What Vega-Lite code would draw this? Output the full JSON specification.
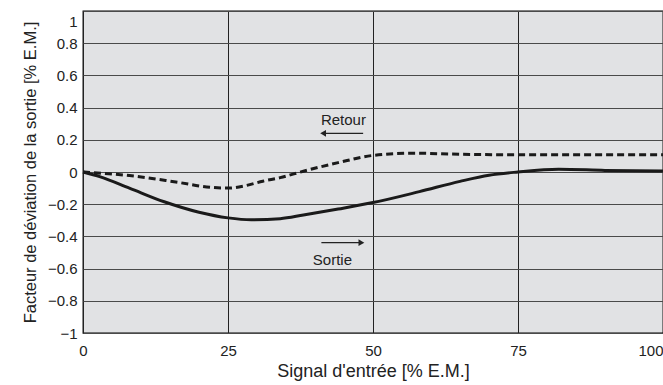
{
  "$schema": "https://vega.github.io/schema/vega-lite/v6.json",
  "width": 580,
  "height": 322,
  "autosize": "none",
  "padding": {"left": 83, "top": 11, "right": 0, "bottom": 52},
  "background": "white",
  "config": {
    "font": "Liberation Sans",
    "view": {"fill": "#e1e2e4", "stroke": "#000000", "strokeWidth": 1.3}
  },
  "datasets": {
    "curves": [
      {"signal": 0, "ecart": 0, "serie": "Sortie"},
      {"signal": 3, "ecart": -0.03, "serie": "Sortie"},
      {"signal": 8, "ecart": -0.1, "serie": "Sortie"},
      {"signal": 14, "ecart": -0.185, "serie": "Sortie"},
      {"signal": 20, "ecart": -0.25, "serie": "Sortie"},
      {"signal": 25, "ecart": -0.285, "serie": "Sortie"},
      {"signal": 29, "ecart": -0.297, "serie": "Sortie"},
      {"signal": 34, "ecart": -0.29, "serie": "Sortie"},
      {"signal": 38, "ecart": -0.267, "serie": "Sortie"},
      {"signal": 44, "ecart": -0.23, "serie": "Sortie"},
      {"signal": 50, "ecart": -0.19, "serie": "Sortie"},
      {"signal": 58, "ecart": -0.122, "serie": "Sortie"},
      {"signal": 65, "ecart": -0.058, "serie": "Sortie"},
      {"signal": 70, "ecart": -0.02, "serie": "Sortie"},
      {"signal": 75, "ecart": 0, "serie": "Sortie"},
      {"signal": 82, "ecart": 0.017, "serie": "Sortie"},
      {"signal": 90, "ecart": 0.01, "serie": "Sortie"},
      {"signal": 100, "ecart": 0.006, "serie": "Sortie"},
      {"signal": 0, "ecart": 0, "serie": "Retour"},
      {"signal": 8, "ecart": -0.022, "serie": "Retour"},
      {"signal": 16, "ecart": -0.062, "serie": "Retour"},
      {"signal": 22, "ecart": -0.095, "serie": "Retour"},
      {"signal": 25, "ecart": -0.1, "serie": "Retour"},
      {"signal": 28, "ecart": -0.085, "serie": "Retour"},
      {"signal": 31, "ecart": -0.057, "serie": "Retour"},
      {"signal": 34, "ecart": -0.035, "serie": "Retour"},
      {"signal": 38, "ecart": 0.005, "serie": "Retour"},
      {"signal": 44, "ecart": 0.058, "serie": "Retour"},
      {"signal": 50, "ecart": 0.103, "serie": "Retour"},
      {"signal": 57, "ecart": 0.117, "serie": "Retour"},
      {"signal": 65, "ecart": 0.11, "serie": "Retour"},
      {"signal": 75, "ecart": 0.107, "serie": "Retour"},
      {"signal": 100, "ecart": 0.107, "serie": "Retour"}
    ],
    "labels": [
      {"signal": 44.9, "ecart": 0.323, "texte": "Retour"},
      {"signal": 43.0, "ecart": -0.547, "texte": "Sortie"}
    ],
    "arrows": [
      {"from": 48.3, "to": 41.4, "ecart": 0.24, "dir": "left"},
      {"from": 41.1, "to": 48.0, "ecart": -0.439, "dir": "right"}
    ]
  },
  "layer": [
    {
      "data": {"name": "curves"},
      "transform": [{"filter": "datum.serie == 'Sortie'"}],
      "mark": {"type": "line", "color": "#1a1a1a", "strokeWidth": 3, "interpolate": "monotone"},
      "encoding": {
        "x": {
          "field": "signal", "type": "quantitative",
          "scale": {"domain": [0, 100], "nice": false, "zero": false},
          "axis": {
            "values": [0, 25, 50, 75, 100], "tickCount": 30,
            "grid": true, "gridColor": "#222222", "gridWidth": 1, "gridOpacity": 1,
            "domain": false, "ticks": false, "labelOverlap": false,
            "labelPadding": 10, "labelFontSize": 15, "labelColor": "#222222",
            "labelAlign": {"condition": {"test": "datum.value == 100", "value": "right"}, "value": "center"},
            "title": "Signal d'entrée [% E.M.]",
            "titleFontSize": 18, "titleFontWeight": "normal", "titleColor": "#222222", "titlePadding": 4
          }
        },
        "y": {
          "field": "ecart", "type": "quantitative",
          "scale": {"domain": [-1, 1], "nice": false},
          "axis": {
            "values": [-1, -0.8, -0.6, -0.4, -0.2, 0, 0.2, 0.4, 0.6, 0.8, 1], "tickCount": 30,
            "labelExpr": "replace(format(datum.value, '.1~f'), '-', '–')",
            "grid": true, "gridColor": "#4a4a4a", "gridWidth": 1, "gridOpacity": 1,
            "domain": false, "ticks": false, "labelOverlap": false,
            "labelPadding": 6, "labelFontSize": 15, "labelColor": "#222222",
            "labelOffset": {"condition": {"test": "datum.value == 1", "value": 10}, "value": 0},
            "title": "Facteur de déviation de la sortie [% E.M.]",
            "titleFontSize": 16.5, "titleFontWeight": "normal", "titleColor": "#222222", "titlePadding": 9
          }
        }
      }
    },
    {
      "data": {"name": "curves"},
      "transform": [{"filter": "datum.serie == 'Retour'"}],
      "mark": {"type": "line", "color": "#1a1a1a", "strokeWidth": 3, "strokeDash": [7, 4], "interpolate": "monotone"},
      "encoding": {
        "x": {"field": "signal", "type": "quantitative"},
        "y": {"field": "ecart", "type": "quantitative"}
      }
    },
    {
      "data": {"name": "labels"},
      "mark": {"type": "text", "fontSize": 15, "color": "#222222", "baseline": "middle", "align": "center"},
      "encoding": {
        "x": {"field": "signal", "type": "quantitative"},
        "y": {"field": "ecart", "type": "quantitative"},
        "text": {"field": "texte"}
      }
    },
    {
      "data": {"name": "arrows"},
      "mark": {"type": "rule", "color": "#222222", "strokeWidth": 1.2},
      "encoding": {
        "x": {"field": "from", "type": "quantitative"},
        "x2": {"field": "to"},
        "y": {"field": "ecart", "type": "quantitative"}
      }
    },
    {
      "data": {"name": "arrows"},
      "transform": [{"filter": "datum.dir == 'left'"}],
      "mark": {"type": "point", "shape": "triangle-left", "filled": true, "color": "#222222", "size": 45, "opacity": 1},
      "encoding": {
        "x": {"field": "to", "type": "quantitative"},
        "y": {"field": "ecart", "type": "quantitative"}
      }
    },
    {
      "data": {"name": "arrows"},
      "transform": [{"filter": "datum.dir == 'right'"}],
      "mark": {"type": "point", "shape": "triangle-right", "filled": true, "color": "#222222", "size": 45, "opacity": 1},
      "encoding": {
        "x": {"field": "to", "type": "quantitative"},
        "y": {"field": "ecart", "type": "quantitative"}
      }
    }
  ]
}
